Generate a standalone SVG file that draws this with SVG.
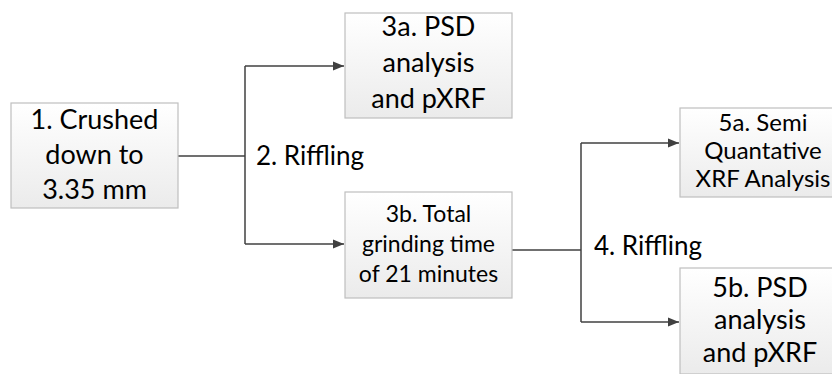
<svg xmlns="http://www.w3.org/2000/svg" width="832" height="374" viewBox="0 0 832 374">
  <defs>
    <linearGradient id="boxFill" x1="0" y1="0" x2="0" y2="1">
      <stop offset="0" stop-color="#ffffff"/>
      <stop offset="1" stop-color="#ebebeb"/>
    </linearGradient>
    <marker id="arrow" markerUnits="userSpaceOnUse" markerWidth="12" markerHeight="10" refX="11" refY="5" orient="auto">
      <path d="M0,0.5 L11,5 L0,9.5 Z" fill="#404040"/>
    </marker>
  </defs>
  <style>
    .box { fill: url(#boxFill); stroke: #bfbfbf; stroke-width: 1.2; }
    .lbl { font-family: "Lato", "Liberation Sans", sans-serif; fill: #000; text-anchor: middle; }
    .big { font-size: 27px; }
    .mid { font-size: 23px; }
    .sm { font-size: 24px; }
    .step { font-family: "Lato", "Liberation Sans", sans-serif; font-size: 26px; fill: #000; }
    .wire { fill: none; stroke: #404040; stroke-width: 1.5; }
  </style>
  <rect width="832" height="374" fill="#ffffff"/>

  <g id="connectors">
    <!-- stage 1 split -->
    <path class="wire" d="M178,156 H245"/>
    <path class="wire" d="M245,66 V244"/>
    <path class="wire" d="M245,66 H344" marker-end="url(#arrow)"/>
    <path class="wire" d="M245,244 H344" marker-end="url(#arrow)"/>
    <!-- stage 2 split -->
    <path class="wire" d="M512,250 H581"/>
    <path class="wire" d="M581,143 V322"/>
    <path class="wire" d="M581,143 H679" marker-end="url(#arrow)"/>
    <path class="wire" d="M581,322 H679" marker-end="url(#arrow)"/>
    <text class="step" x="256" y="165">2. Riffling</text>
    <text class="step" x="594" y="255">4. Riffling</text>
  </g>

  <g id="node-1">
    <rect class="box" x="11" y="103" width="167" height="105"/>
    <text class="lbl big" x="94.5" y="129">1. Crushed</text>
    <text class="lbl big" x="94.5" y="164">down to</text>
    <text class="lbl big" x="94.5" y="199">3.35 mm</text>
  </g>

  <g id="node-3a">
    <rect class="box" x="345" y="13" width="167" height="105"/>
    <text class="lbl big" x="428.5" y="36">3a. PSD</text>
    <text class="lbl big" x="428.5" y="72">analysis</text>
    <text class="lbl big" x="428.5" y="108">and pXRF</text>
  </g>

  <g id="node-3b">
    <rect class="box" x="345" y="192" width="167" height="106"/>
    <text class="lbl mid" x="428.5" y="222">3b. Total</text>
    <text class="lbl mid" x="428.5" y="252">grinding time</text>
    <text class="lbl mid" x="428.5" y="282">of 21 minutes</text>
  </g>

  <g id="node-5a">
    <rect class="box" x="680" y="108" width="167" height="89"/>
    <text class="lbl sm" x="763" y="131">5a. Semi</text>
    <text class="lbl sm" x="763" y="159">Quantative</text>
    <text class="lbl sm" x="763" y="187">XRF Analysis</text>
  </g>

  <g id="node-5b">
    <rect class="box" x="680" y="268" width="167" height="106"/>
    <text class="lbl big" x="760" y="297">5b. PSD</text>
    <text class="lbl big" x="760" y="329">analysis</text>
    <text class="lbl big" x="760" y="362">and pXRF</text>
  </g>
</svg>
